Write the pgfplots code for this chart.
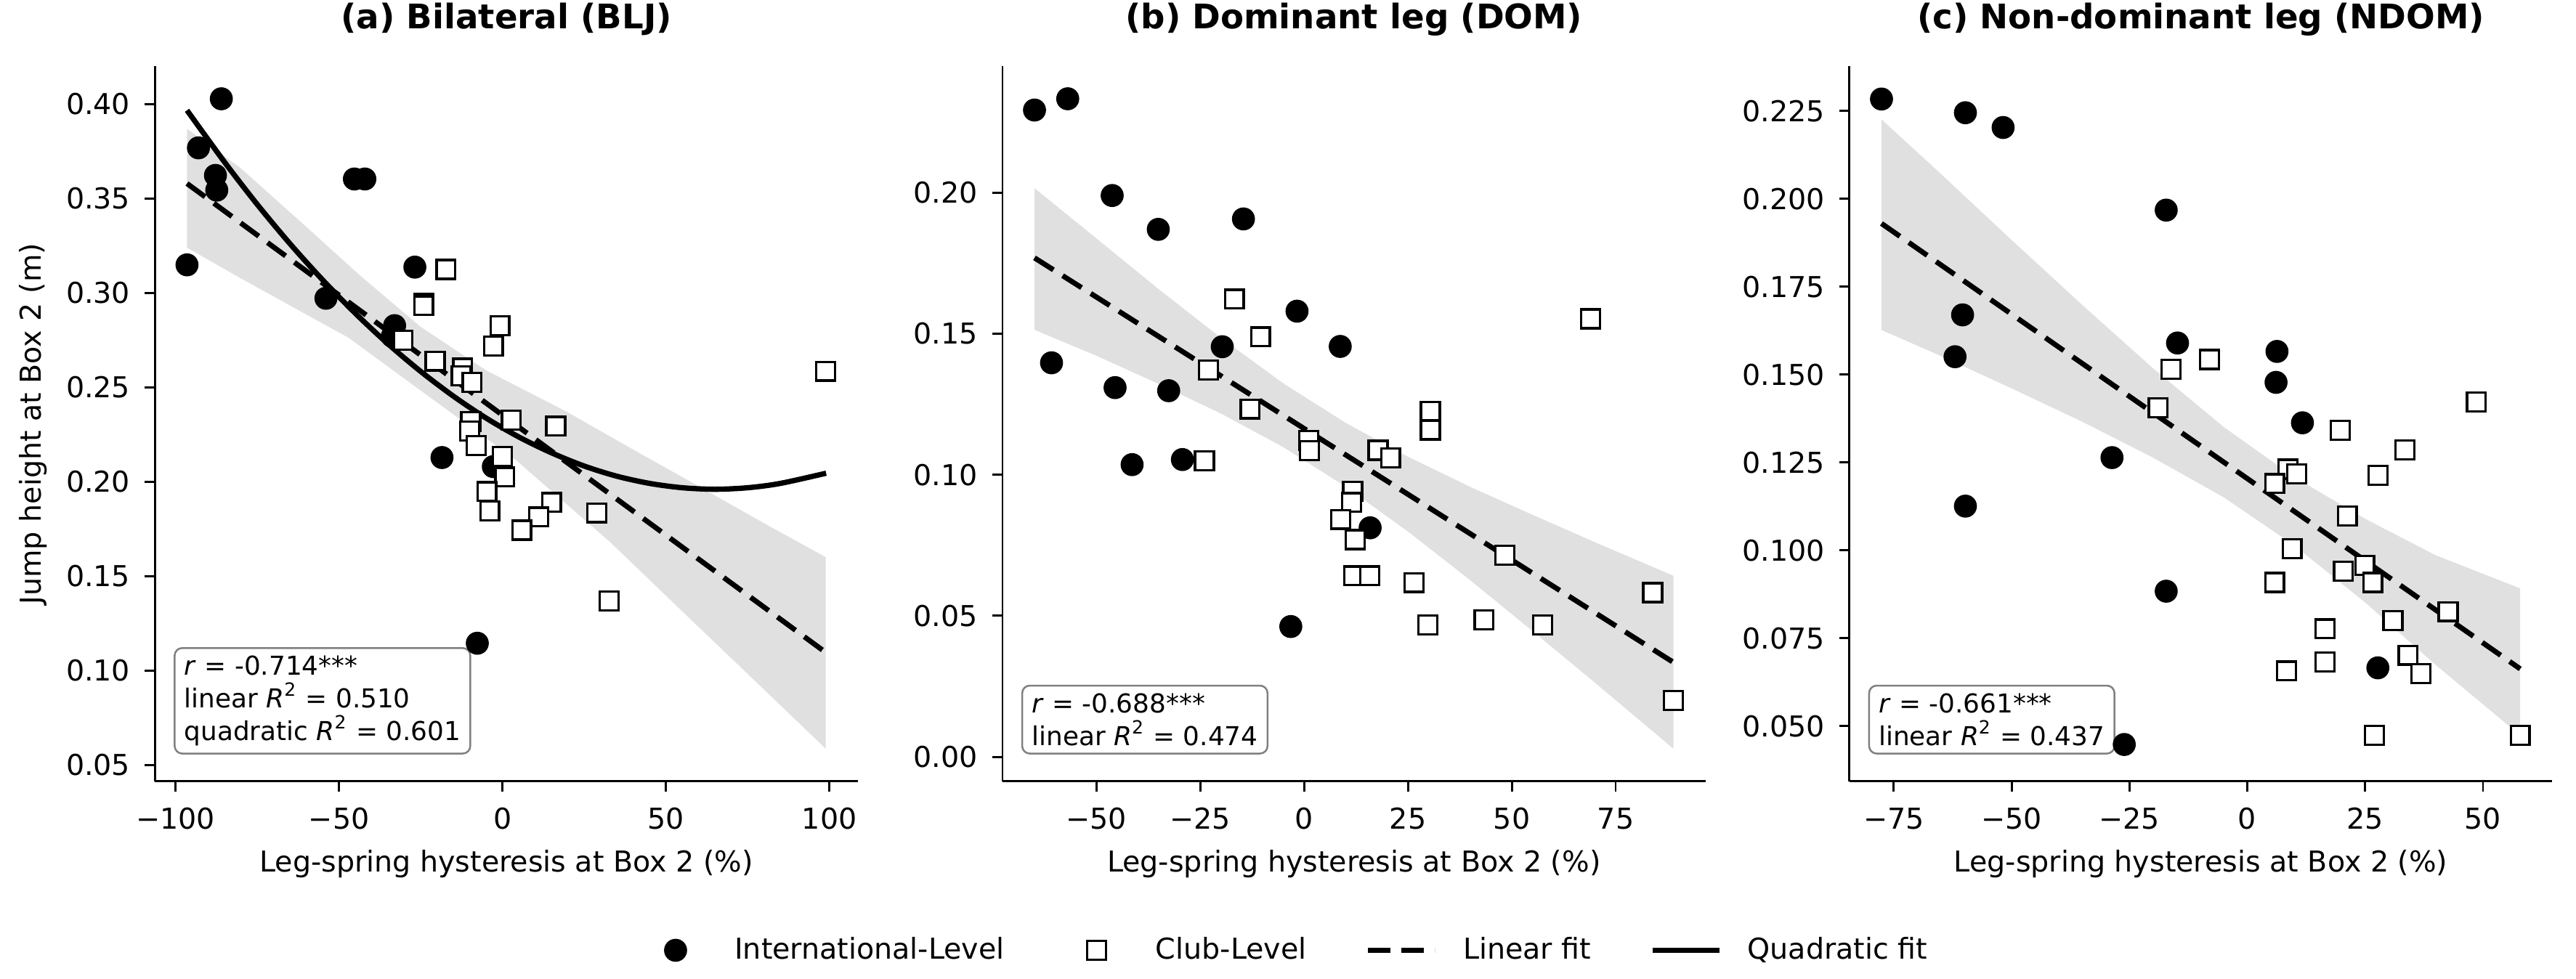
\documentclass[border=0pt]{standalone}
\usepackage{fontspec}
\setmainfont{DejaVu Sans}
\usepackage{pgfplots}
\pgfplotsset{compat=1.18}

\definecolor{bandgray}{RGB}{224,224,224}
\definecolor{boxedge}{RGB}{128,128,128}

\newcommand{\tickfont}{\fontsize{9.5}{11}\selectfont}

\tikzset{
  statbox/.style={anchor=south west, xshift=6.2pt, yshift=8.9pt, align=left,
                  font=\fontsize{8.6}{10.75}\selectfont, inner xsep=3.2pt, inner ysep=2.6pt,
                  draw=boxedge, line width=0.6pt, fill=white, rounded corners=2.5pt},
}

\pgfplotsset{
  panel/.style={
    scale only axis, width=232.2pt, height=236.3pt, anchor=south west,
    axis x line=bottom, axis y line=left,
    axis line style={-, line width=0.7pt, black},
    tick align=outside, major tick length=3.4pt,
    tick style={line width=0.7pt, black},
    enlargelimits=false, clip=true,
    ticklabel style={font=\tickfont},
    xticklabel style={anchor=north, inner sep=0pt, yshift=-5.2pt},
    yticklabel style={anchor=east, inner sep=0pt, xshift=-4.6pt},
    label style={font=\tickfont},
    xlabel style={at={(axis description cs:0.5,-0.1261)}, anchor=base},
    title style={at={(axis description cs:0.5,1.0271)}, anchor=base,
                 font=\fontsize{11.2}{13}\selectfont\bfseries},
    xlabel={Leg-spring hysteresis at Box 2 (\%)},
  },
  intl/.style={only marks, mark=*, mark size=3.6pt, black, forget plot},
  club/.style={only marks, mark=square*, mark size=3.1pt,
               mark options={fill=white, draw=black, line width=0.8pt}, forget plot},
  band/.style={fill=bandgray, draw=none, forget plot},
  linfit/.style={black, line width=1.7pt, dash pattern=on 7.4pt off 3.6pt, forget plot},
  quadfit/.style={black, line width=1.75pt, smooth, forget plot},
  markimg/.style={legend image code/.code={%
      \path[draw=none, fill=none] (0pt,0pt) (22pt,0pt);
      \draw[mark repeat=2, mark phase=2, ##1] plot coordinates {(0pt,0pt) (11pt,0pt) (22pt,0pt)};}},
  lineimg/.style={legend image code/.code={%
      \draw[##1] (0pt,0pt) -- (22pt,0pt);}},
}

\begin{document}
\begin{tikzpicture}
\useasboundingbox (0,0) rectangle (851.04pt,323.52pt);

% ---------------- (a) Bilateral ----------------
\begin{axis}[panel, at={(51.2pt,65.3pt)},
  title={(a) Bilateral (BLJ)},
  xmin=-106.3, xmax=108.7, ymin=0.0412, ymax=0.4201,
  xtick={-100,-50,0,50,100}, xticklabels={−100,−50,0,50,100},
  ytick={0.05,0.10,0.15,0.20,0.25,0.30,0.35,0.40},
  yticklabels={0.05,0.10,0.15,0.20,0.25,0.30,0.35,0.40},
  ylabel={Jump height at Box 2 (m)},
  ylabel style={at={(axis description cs:-0.1626,0.5)}, anchor=base},
]
\addplot[band] coordinates {
  (-96.5,0.387) (-80,0.366) (-60,0.335) (-43.4,0.309) (-25,0.282) (-5,0.259)
  (19.6,0.2371) (40,0.217) (60,0.1976) (80,0.178) (98.9,0.160)
  (98.9,0.0585) (80,0.0899) (60,0.123) (33,0.1679) (4.1,0.2115) (-25,0.2483)
  (-47.1,0.2763) (-60,0.2886) (-80,0.3077) (-96.5,0.324)} -- cycle;
\addplot[intl] coordinates {
  (-86.0,0.4029) (-93.0,0.3769) (-87.8,0.3623) (-87.4,0.3545) (-96.5,0.3149)
  (-45.3,0.3604) (-42.1,0.3604) (-54.0,0.2972) (-26.8,0.3137) (-33.0,0.2827)
  (-33.7,0.2770) (-18.5,0.2128) (-2.8,0.2080) (-7.7,0.1144)};
\addplot[club] coordinates {
  (-17.3,0.3125) (-24.1,0.2947) (-24.1,0.2933) (-0.8,0.2827) (-2.8,0.2718)
  (-30.4,0.2750) (-20.6,0.2639) (-12.2,0.2602) (-12.6,0.2560) (-9.3,0.2526)
  (-9.7,0.2320) (-10.0,0.2269) (2.7,0.2327) (16.3,0.2294) (-8.0,0.2192)
  (0.0,0.2134) (0.7,0.2025) (-4.8,0.1948) (-3.9,0.1845) (15.0,0.1890)
  (11.1,0.1813) (5.9,0.1743) (28.9,0.1835) (32.6,0.1368) (98.9,0.2585)};
\addplot[linfit] coordinates {(-96.5,0.358) (98.9,0.1095)};
\addplot[quadfit] coordinates {
  (-96.5,0.3968) (-85,0.3693) (-75,0.3469) (-65,0.3261) (-55,0.3069)
  (-45,0.2892) (-35,0.2730) (-25,0.2584) (-15,0.2453) (-5,0.2337)
  (5,0.2237) (15,0.2153) (25,0.2083) (35,0.2029) (45,0.1991)
  (55,0.1968) (65,0.1960) (75,0.1968) (85,0.1991) (99,0.2045)};
\node[statbox] at (rel axis cs:0,0)
  {\textit{r} = -0.714***\\linear \textit{R}\textsuperscript{2} = 0.510\\quadratic \textit{R}\textsuperscript{2} = 0.601};
\end{axis}

% ---------------- (b) Dominant leg ----------------
\begin{axis}[panel, at={(331.2pt,65.3pt)},
  title={(b) Dominant leg (DOM)},
  xmin=-72.6, xmax=96.6, ymin=-0.0087, ymax=0.2448,
  xtick={-50,-25,0,25,50,75}, xticklabels={−50,−25,0,25,50,75},
  ytick={0,0.05,0.10,0.15,0.20},
  yticklabels={0.00,0.05,0.10,0.15,0.20},
  legend columns=4,
  legend cell align=left,
  legend style={draw=none, fill=none, inner sep=0pt, outer sep=0pt,
    at={(axis description cs:-0.5125,-0.2362)}, anchor=west,
    font=\tickfont, nodes={inner sep=0pt},
    /tikz/every odd column/.append style={column sep=8.5pt},
    /tikz/every even column/.append style={column sep=19.5pt}},
]
\addplot[band] coordinates {
  (-64.9,0.2016) (-50,0.1838) (-35,0.1658) (-20,0.1485) (-5,0.1324) (10,0.1184)
  (25,0.1064) (40,0.0957) (55,0.0858) (70,0.0761) (88.9,0.0642)
  (88.9,0.0029) (70,0.0263) (55,0.0446) (40,0.0626) (25,0.0799) (10,0.0958)
  (-5,0.1098) (-20,0.1217) (-35,0.1322) (-50,0.1422) (-64.9,0.1514)} -- cycle;
\addplot[intl] coordinates {
  (-64.9,0.2293) (-56.9,0.2333) (-46.2,0.1990) (-35.1,0.1870) (-14.6,0.1907)
  (-60.8,0.1397) (-45.5,0.1309) (-32.6,0.1298) (-41.4,0.1036) (-29.3,0.1054)
  (-19.7,0.1454) (-1.7,0.1580) (8.7,0.1455) (15.9,0.0812) (-3.2,0.0462)};
\addplot[club] coordinates {
  (-16.8,0.1623) (-10.5,0.1489) (-23.0,0.1371) (-13.0,0.1233) (1.1,0.1122)
  (1.3,0.1086) (-24.0,0.1050) (17.8,0.1087) (20.8,0.1060) (30.4,0.1224)
  (30.4,0.1159) (11.7,0.0941) (11.4,0.0902) (8.8,0.0842) (12.3,0.0770)
  (11.9,0.0642) (15.8,0.0642) (26.5,0.0618) (29.8,0.0468) (43.3,0.0485)
  (57.4,0.0468) (48.3,0.0715) (69.0,0.1553) (83.9,0.0582) (88.9,0.0200)};
\addplot[linfit] coordinates {(-64.9,0.1769) (88.9,0.0335)};
\node[statbox] at (rel axis cs:0,0)
  {\textit{r} = -0.688***\\linear \textit{R}\textsuperscript{2} = 0.474};

\addlegendimage{only marks, mark=*, mark size=3.6pt, black, markimg}
\addlegendentry{International-Level}
\addlegendimage{only marks, mark=square*, mark size=3.1pt,
  mark options={fill=white, draw=black, line width=0.8pt}, markimg}
\addlegendentry{Club-Level}
\addlegendimage{black, line width=1.7pt, dash pattern=on 7.4pt off 3.6pt, lineimg}
\addlegendentry{Linear fit}
\addlegendimage{black, line width=1.75pt, lineimg}
\addlegendentry{Quadratic fit}
\end{axis}

% ---------------- (c) Non-dominant leg ----------------
\begin{axis}[panel, at={(611.0pt,65.3pt)},
  title={(c) Non-dominant leg (NDOM)},
  xmin=-84.4, xmax=64.7, ymin=0.0343, ymax=0.2377,
  xtick={-75,-50,-25,0,25,50}, xticklabels={−75,−50,−25,0,25,50},
  ytick={0.05,0.075,0.10,0.125,0.15,0.175,0.20,0.225},
  yticklabels={0.050,0.075,0.100,0.125,0.150,0.175,0.200,0.225},
]
\addplot[band] coordinates {
  (-77.6,0.2226) (-65,0.2071) (-50,0.1883) (-35,0.1698) (-20,0.1518) (-5,0.1351)
  (10,0.1208) (25,0.1090) (40,0.0986) (57.9,0.0892)
  (57.9,0.0474) (40,0.0674) (25,0.0852) (10,0.1014) (-5,0.1151) (-20,0.1264)
  (-35,0.1366) (-50,0.1461) (-65,0.1553) (-77.6,0.1627)} -- cycle;
\addplot[intl] coordinates {
  (-77.6,0.2284) (-59.8,0.2245) (-51.8,0.2203) (-17.2,0.1968) (-60.4,0.1670)
  (-62.0,0.1551) (-14.8,0.1590) (6.3,0.1566) (6.1,0.1478) (11.7,0.1363)
  (-28.7,0.1264) (-59.8,0.1126) (-17.2,0.0884) (27.7,0.0666) (-26.1,0.0448)};
\addplot[club] coordinates {
  (-16.2,0.1515) (-8.0,0.1543) (-18.9,0.1406) (48.6,0.1422) (19.7,0.1342)
  (33.4,0.1286) (8.6,0.1231) (10.5,0.1218) (5.8,0.1190) (27.7,0.1214)
  (21.2,0.1098) (9.5,0.1005) (24.9,0.0957) (20.4,0.0941) (26.6,0.0909)
  (5.8,0.0909) (42.6,0.0826) (30.9,0.0800) (16.5,0.0777) (16.5,0.0683)
  (8.3,0.0657) (34.1,0.0702) (36.8,0.0650) (27.0,0.0474) (57.9,0.0474)};
\addplot[linfit] coordinates {(-77.6,0.1930) (57.9,0.0663)};
\node[statbox] at (rel axis cs:0,0)
  {\textit{r} = -0.661***\\linear \textit{R}\textsuperscript{2} = 0.437};
\end{axis}
\end{tikzpicture}
\end{document}
